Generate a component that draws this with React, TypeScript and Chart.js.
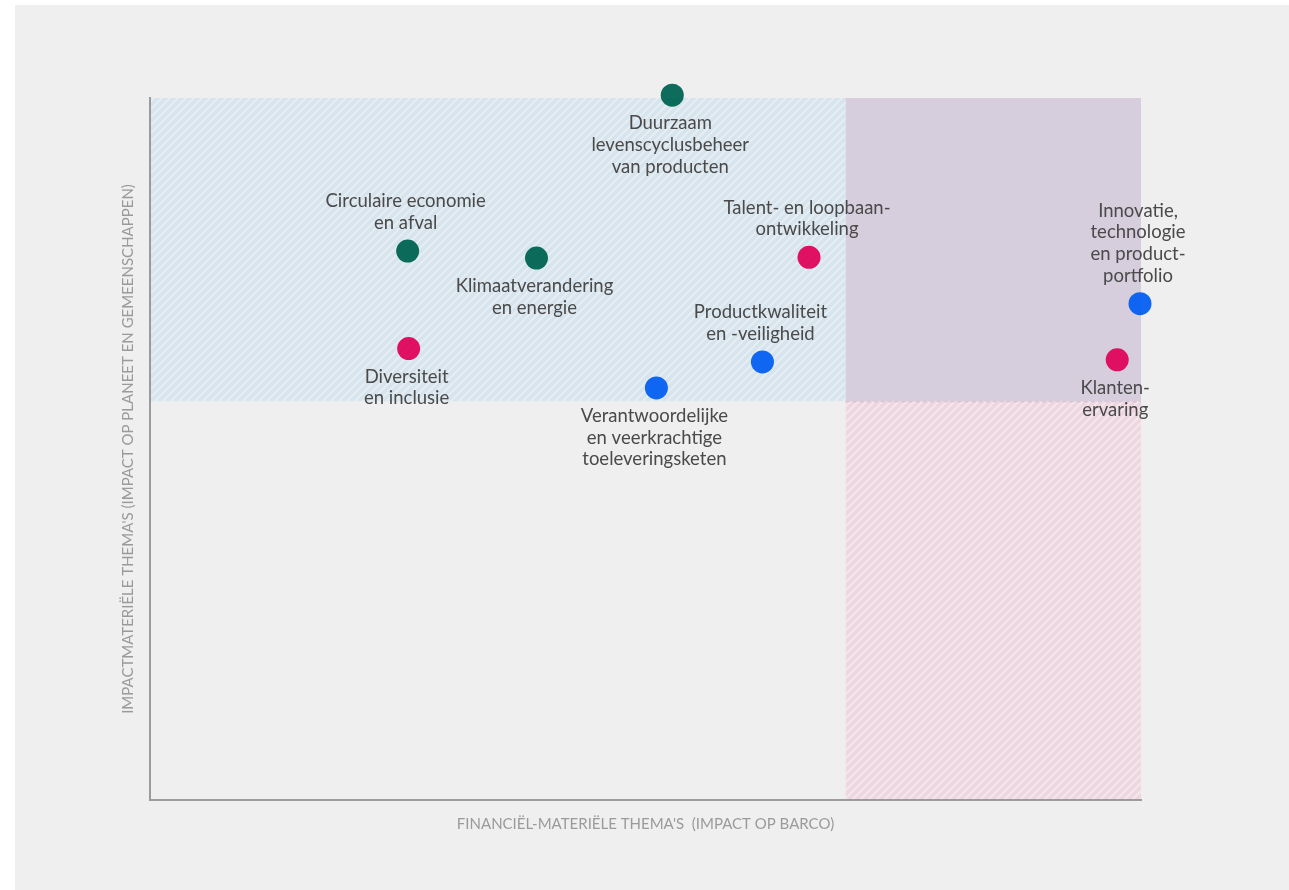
import React, { useEffect, useRef } from "react";
import { Chart, registerables } from "chart.js";

Chart.register(...registerables);

// ---- data ----
const topics: string[][] = [
  ["Duurzaam", "levenscyclusbeheer", "van producten"],
  ["Circulaire economie", "en afval"],
  ["Klimaatverandering", "en energie"],
  ["Talent- en loopbaan-", "ontwikkeling"],
  ["Diversiteit", "en inclusie"],
  ["Verantwoordelijke", "en veerkrachtige", "toeleveringsketen"],
  ["Productkwaliteit", "en -veiligheid"],
  ["Innovatie,", "technologie", "en product-", "portfolio"],
  ["Klanten-", "ervaring"],
];
const financialImpact: number[] = [5.27, 2.6, 3.9, 6.65, 2.61, 5.11, 6.18, 9.99, 9.76];
const impactMateriality: number[] = [10.04, 7.82, 7.72, 7.73, 6.43, 5.87, 6.24, 7.07, 6.27];
const topicGroup: string[] = ["env", "env", "env", "soc", "soc", "gov", "gov", "gov", "soc"];
const labelSide: string[] = ["below", "above", "below", "above", "below", "below", "above", "above", "below"];

const groups: string[] = ["env", "soc", "gov"];
const groupColors: string[] = ["rgba(0,100,82,0.95)", "rgba(224,0,88,0.93)", "rgba(0,92,242,0.93)"];

const xThreshold = 7.02;
const yThreshold = 5.68;
const axisMin = 0;
const axisMax = 10;

const xTitle = "FINANCIËL-MATERIËLE THEMA'S  (IMPACT OP BARCO)";
const yTitle = "IMPACTMATERIËLE THEMA'S (IMPACT OP PLANEET EN GEMEENSCHAPPEN)";

const FONT = "Lato, 'Open Sans', sans-serif";

function makeHatch(base: string, stripe: string): CanvasPattern | string {
  const s = 8;
  const c = document.createElement("canvas");
  c.width = s;
  c.height = s;
  const g = c.getContext("2d");
  if (!g) return base;
  g.fillStyle = base;
  g.fillRect(0, 0, s, s);
  g.strokeStyle = stripe;
  g.lineWidth = 2;
  g.beginPath();
  g.moveTo(-1, 1);
  g.lineTo(1, -1);
  g.moveTo(0, s);
  g.lineTo(s, 0);
  g.moveTo(s - 1, s + 1);
  g.lineTo(s + 1, s - 1);
  g.stroke();
  const p = g.createPattern(c, "repeat");
  return p || base;
}

const quadrantPlugin = {
  id: "quadrants",
  beforeDraw(chart: any) {
    const { ctx, scales } = chart;
    const xs = scales.x;
    const ys = scales.y;
    const x0 = xs.getPixelForValue(axisMin);
    const xT = xs.getPixelForValue(xThreshold);
    const x1 = xs.getPixelForValue(axisMax);
    const y0 = ys.getPixelForValue(axisMin);
    const yT = ys.getPixelForValue(yThreshold);
    const y1 = ys.getPixelForValue(axisMax);
    ctx.save();
    ctx.fillStyle = makeHatch("#d6e4ee", "#e7edf2");
    ctx.fillRect(x0, y1, xT - x0, yT - y1);
    ctx.fillStyle = makeHatch("#eed6e0", "#f3e7ed");
    ctx.fillRect(xT, yT, x1 - xT, y0 - yT);
    ctx.fillStyle = "#d6cddd";
    ctx.fillRect(xT, y1, x1 - xT, yT - y1);
    ctx.strokeStyle = "rgba(205,160,190,0.6)";
    ctx.lineWidth = 1;
    ctx.setLineDash([4, 3]);
    ctx.beginPath();
    ctx.moveTo(xT, yT + 0.5);
    ctx.lineTo(x1, yT + 0.5);
    ctx.stroke();
    ctx.restore();
  },
};

const labelPlugin = {
  id: "pointLabels",
  afterDatasetsDraw(chart: any) {
    const { ctx } = chart;
    const lh = 21.7;
    const gap = 28;
    ctx.save();
    ctx.font = "18.5px " + FONT;
    ctx.fillStyle = "#4a4a4a";
    ctx.textAlign = "center";
    ctx.textBaseline = "middle";
    chart.data.datasets.forEach((ds: any, di: number) => {
      const meta = chart.getDatasetMeta(di);
      meta.data.forEach((el: any, i: number) => {
        const idx = ds.topicIndex[i];
        const lines = topics[idx];
        const side = labelSide[idx];
        const cx = el.x - 2;
        lines.forEach((line: string, li: number) => {
          const y =
            side === "below"
              ? el.y + gap + li * lh
              : el.y - gap - (lines.length - 1 - li) * lh;
          ctx.fillText(line, cx, y);
        });
      });
    });
    ctx.restore();
  },
};

export default function App() {
  const ref = useRef<HTMLCanvasElement | null>(null);

  useEffect(() => {
    if (!ref.current) return;
    const datasets = groups.map((g, gi) => {
      const idxs = topicGroup.map((t, i) => (t === g ? i : -1)).filter((i) => i >= 0);
      return {
        label: g,
        topicIndex: idxs,
        data: idxs.map((i) => ({ x: financialImpact[i], y: impactMateriality[i] })),
        backgroundColor: groupColors[gi],
        borderWidth: 0,
        pointRadius: 11.5,
        pointHoverRadius: 11.5,
        clip: false,
      };
    });
    const chart = new Chart(ref.current, {
      type: "scatter",
      data: { datasets: datasets as any },
      options: {
        animation: false,
        responsive: false,
        maintainAspectRatio: false,
        events: [],
        layout: { padding: { left: 100, top: 93, right: 148, bottom: 53 } },
        plugins: { legend: { display: false }, tooltip: { enabled: false } },
        scales: {
          x: {
            type: "linear",
            min: axisMin,
            max: axisMax,
            grid: { display: false, drawTicks: false },
            ticks: { display: false },
            border: { display: true, color: "#9b9b9b", width: 2 },
            title: {
              display: true,
              text: xTitle,
              color: "#9a9a9a",
              font: { family: FONT, size: 15, lineHeight: 1.2 },
              padding: { top: 15, bottom: 4 },
            },
          },
          y: {
            type: "linear",
            min: axisMin,
            max: axisMax,
            grid: { display: false, drawTicks: false },
            ticks: { display: false },
            border: { display: true, color: "#9b9b9b", width: 2 },
            title: {
              display: true,
              text: yTitle,
              color: "#9a9a9a",
              font: { family: FONT, size: 15, lineHeight: 1.2 },
              padding: { top: 4, bottom: 13 },
            },
          },
        },
      },
      plugins: [quadrantPlugin, labelPlugin],
    });
    return () => chart.destroy();
  }, []);

  return (
    <div
      style={{
        position: "absolute",
        left: 15,
        top: 5,
        width: 1274,
        height: 885,
        background: "#efefef",
      }}
    >
      <canvas ref={ref} width={1274} height={885} style={{ display: "block" }} />
    </div>
  );
}
